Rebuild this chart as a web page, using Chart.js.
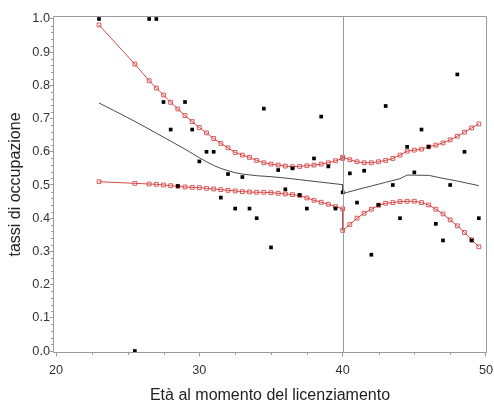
<!DOCTYPE html>
<html><head><meta charset="utf-8">
<script src="https://cdn.jsdelivr.net/npm/chart.js@4/dist/chart.umd.min.js"></script>
<style>html,body{margin:0;padding:0;background:#fff}</style>
</head><body>
<canvas id="c" width="494" height="405"></canvas>
<script>
// observed data
const ages  = [23,25.5,26.5,27,27.5,28,28.5,29,29.5,30,30.5,31,31.5,32,32.5,33,33.5,34,34.5,35,35.5,36,36.5,37,37.5,38,38.5,39,39.5,40,40.5,41,41.5,42,42.5,43,43.5,44,44.5,45,45.5,46,46.5,47,47.5,48,48.5,49,49.5];
const rates = [1.0,0.0,1.0,1.0,0.75,0.667,0.497,0.75,0.667,0.571,0.6,0.6,0.462,0.533,0.429,0.524,0.429,0.4,0.73,0.312,0.545,0.487,0.55,0.47,0.429,0.58,0.706,0.556,0.429,0.478,0.535,0.447,0.543,0.29,0.44,0.738,0.5,0.4,0.615,0.538,0.667,0.615,0.383,0.333,0.5,0.833,0.6,0.333,0.4];
// fitted line
const fitX = [23,24,25,26,27,28,29,29.5,30,30.5,31,31.5,32,32.5,33,34,35,36,37,38,39,40,40,41,42,43,44,44.5,46,47,48,49.5];
const fitY = [0.747,0.725,0.703,0.680,0.656,0.632,0.608,0.595,0.582,0.570,0.559,0.550,0.543,0.537,0.533,0.528,0.525,0.521,0.516,0.511,0.506,0.501,0.474,0.486,0.497,0.508,0.519,0.530,0.529,0.520,0.512,0.498];
// confidence bands
const bandX  = [23,25.5,26.5,27,27.5,28,28.5,29,29.5,30,30.5,31,31.5,32,32.5,33,33.5,34,34.5,35,35.5,36,36.5,37,37.5,38,38.5,39,39.5,40,40,40.5,41,41.5,42,42.5,43,43.5,44,44.5,45,45.5,46,46.5,47,47.5,48,48.5,49,49.5];
const upperY = [0.982,0.864,0.814,0.792,0.771,0.749,0.729,0.709,0.691,0.673,0.657,0.640,0.625,0.612,0.598,0.590,0.583,0.574,0.567,0.563,0.560,0.557,0.555,0.556,0.558,0.560,0.563,0.567,0.573,0.580,0.584,0.576,0.570,0.567,0.567,0.570,0.574,0.580,0.590,0.602,0.605,0.608,0.615,0.620,0.627,0.636,0.647,0.659,0.672,0.684];
const lowerY = [0.510,0.505,0.503,0.502,0.500,0.498,0.496,0.494,0.493,0.492,0.490,0.488,0.486,0.484,0.482,0.480,0.479,0.478,0.478,0.477,0.475,0.473,0.471,0.468,0.461,0.454,0.448,0.442,0.435,0.428,0.363,0.381,0.400,0.415,0.427,0.439,0.445,0.447,0.450,0.451,0.451,0.447,0.440,0.427,0.413,0.395,0.377,0.357,0.335,0.314];
const cutoffAge = 40;
// axis ticks
const xTicks = [20,30,40,50];
const yTicks = [0,0.1,0.2,0.3,0.4,0.5,0.6,0.7,0.8,0.9,1.0];
const xMinorTicks = [22.5,25,27.5,32.5,35,37.5,42.5,45,47.5];
const yMinorTicks = [];
for (let i = 0; i <= 50; i++) { if (i % 5) yMinorTicks.push(i / 50); }

const pts = (xs, ys) => xs.map((x, i) => ({x, y: ys[i]}));
const RED = 'rgb(214,72,72)';
const AXIS = '#9a9a9a';
const FONT = "'Liberation Sans', Arial, sans-serif";

const framePlugin = {
  id: 'frame',
  afterDatasetsDraw(chart) {
    const {ctx, chartArea: a, scales: {x, y}} = chart;
    ctx.save();
    ctx.strokeStyle = AXIS; ctx.lineWidth = 1;
    const L = Math.round(a.left) + 0.5, R = Math.round(a.right) - 0.5;
    const T = Math.round(a.top) + 0.5, B = Math.round(a.bottom) - 0.5;
    ctx.beginPath();
    ctx.rect(L, T, R - L, B - T);
    const cx = Math.round(x.getPixelForValue(cutoffAge)) + 0.5;
    ctx.moveTo(cx, T); ctx.lineTo(cx, B);
    xMinorTicks.forEach(v => { const p = Math.round(x.getPixelForValue(v)) + 0.5; ctx.moveTo(p, B); ctx.lineTo(p, B + 2.5); });
    yMinorTicks.forEach(v => { const p = Math.round(y.getPixelForValue(v)) + 0.5; ctx.moveTo(L - 2.5, p); ctx.lineTo(L, p); });
    ctx.stroke();
    ctx.restore();
  }
};

new Chart(document.getElementById('c'), {
  type: 'scatter',
  data: {
    datasets: [
      { label: 'tassi', data: pts(ages, rates), pointStyle: 'rect', pointRadius: 2.6,
        backgroundColor: '#000', borderColor: '#000', borderWidth: 0, showLine: false },
      { label: 'upper', data: pts(bandX, upperY), showLine: true, borderColor: RED, borderWidth: 1,
        pointStyle: 'rect', pointRadius: 2.7, pointBorderColor: RED, pointBorderWidth: 0.9,
        pointBackgroundColor: 'rgba(255,255,255,0)', tension: 0 },
      { label: 'lower', data: pts(bandX, lowerY), showLine: true, borderColor: RED, borderWidth: 1,
        pointStyle: 'rect', pointRadius: 2.7, pointBorderColor: RED, pointBorderWidth: 0.9,
        pointBackgroundColor: 'rgba(255,255,255,0)', tension: 0 },
      { label: 'fit', data: pts(fitX, fitY), showLine: true, borderColor: '#4a4a4a', borderWidth: 1,
        pointRadius: 0, tension: 0 }
    ]
  },
  options: {
    responsive: false, animation: false, devicePixelRatio: 1,
    layout: { padding: { top: 16, right: 7, left: 0, bottom: 0 } },
    plugins: { legend: { display: false }, tooltip: { enabled: false } },
    scales: {
      x: {
        type: 'linear', min: 19.79, max: 50.07,
        afterBuildTicks: s => { s.ticks = xTicks.map(v => ({value: v})); },
        afterFit: s => { s.height = 52; s.paddingLeft = 0; s.paddingRight = 0; },
        ticks: { color: '#333', font: { family: FONT, size: 12.7 }, padding: 6, maxRotation: 0,
                 callback: v => String(v) },
        grid: { drawOnChartArea: false, tickLength: 3.5, tickColor: AXIS, color: AXIS },
        border: { display: false },
        title: { display: true, text: 'Età al momento del licenziamento', color: '#222',
                 font: { family: FONT, size: 16 }, padding: { top: 0, bottom: 0 } }
      },
      y: {
        type: 'linear', min: -0.006, max: 1.009,
        afterBuildTicks: s => { s.ticks = yTicks.map(v => ({value: v})); },
        afterFit: s => { s.width = 53; },
        ticks: { color: '#333', font: { family: FONT, size: 12.7 }, padding: 0,
                 callback: v => v.toFixed(1) },
        grid: { drawOnChartArea: false, tickLength: 3, tickColor: AXIS, color: AXIS },
        border: { display: false },
        title: { display: true, text: 'tassi di occupazione', color: '#222',
                 font: { family: FONT, size: 16 }, padding: { top: 6.4, bottom: 0 } }
      }
    }
  },
  plugins: [framePlugin]
});
</script>
</body></html>
